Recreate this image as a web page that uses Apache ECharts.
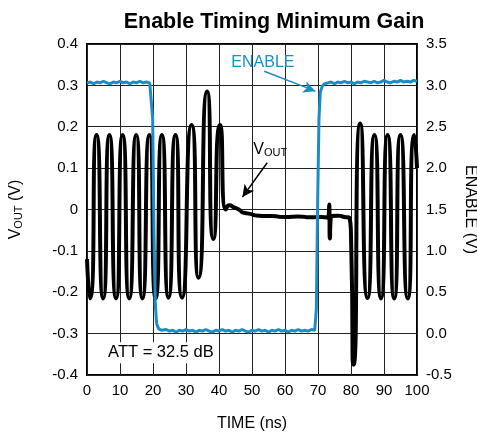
<!DOCTYPE html>
<html>
<head>
  <meta charset="utf-8">
  <script src="https://cdn.jsdelivr.net/npm/echarts@6/dist/echarts.min.js"></script>
  <style>
    html, body { margin: 0; padding: 0; background: #fff; }
    #chart { width: 477px; height: 435px; }
  </style>
</head>
<body>
  <div id="chart"></div>
  <script>
    // VOUT trace (left axis, V) - extremes and levels
    var voutTime = [0, 0.9, 2.9, 4.9, 6.8, 8.8, 10.8, 12.8, 14.9, 16.8, 18.9, 20.8, 22.7, 24.7, 26.8, 28.8,
      31.7, 33.8, 36.4, 38.3, 40.3, 42.1, 43.2, 44.5, 46, 47.5, 49, 52, 56, 60, 64, 68, 71, 73.0, 73.4, 73.6, 73.9,
      76, 78, 79.5, 80.1, 80.8, 82.8, 85, 87.1, 89.1, 91.1, 93.1, 95.0, 97.2, 99.2, 100];
    var voutVals = [-0.12, -0.215, 0.18, -0.215, 0.18, -0.215, 0.18, -0.215, 0.18, -0.215, 0.18, -0.215, 0.18, -0.213, 0.18, -0.213,
      0.204, -0.165, 0.285, -0.071, 0.204, 0.0, 0.01, 0.005, 0.0, -0.008, -0.01, -0.015, -0.016, -0.018, -0.017, -0.019, -0.018, -0.02, 0.012, -0.07, -0.02,
      -0.015, -0.018, -0.02, -0.1, -0.375, 0.208, -0.214, 0.18, -0.215, 0.18, -0.215, 0.18, -0.215, 0.18, 0.1];

    // ENABLE trace (right axis, V)
    var enableTime = [0, 1, 2, 3, 4, 5, 6, 7, 8, 9, 10, 11, 12, 13, 14, 15, 16, 17, 18, 19, 19.6,
      19.9, 20.3, 20.7, 21.1, 21.7, 22.5,
      23, 24, 25, 26, 27, 28, 29, 30, 31, 32, 33, 34, 35, 36, 37, 38, 39, 40, 41, 42, 43, 44, 45, 46,
      47, 48, 49, 50, 51, 52, 53, 54, 55, 56, 57, 58, 59, 60, 61, 62, 63, 64, 65, 66, 67, 68, 69,
      69.2, 69.5, 69.9, 70.3, 70.7, 71.3, 72,
      73, 74, 75, 76, 77, 78, 79, 80, 81, 82, 83, 84, 85, 86, 87, 88, 89, 90, 91, 92, 93, 94, 95, 96, 97, 98, 99, 100];
    var enableVals = [3.03, 3.04, 3.02, 3.04, 3.03, 3.05, 3.03, 3.02, 3.04, 3.03, 3.05, 3.03, 3.04, 3.02, 3.04, 3.03, 3.05, 3.03, 3.04, 3.03, 3.02,
      2.6, 1.2, 0.35, 0.12, 0.06, 0.04,
      0.03, 0.05, 0.03, 0.04, 0.02, 0.04, 0.03, 0.05, 0.03, 0.04, 0.02, 0.04, 0.03, 0.05, 0.03, 0.02, 0.04, 0.03, 0.05, 0.03, 0.04, 0.02, 0.04, 0.03,
      0.05, 0.03, 0.02, 0.04, 0.03, 0.05, 0.03, 0.04, 0.02, 0.04, 0.03, 0.05, 0.03, 0.04, 0.02, 0.04, 0.03, 0.05, 0.03, 0.04, 0.03, 0.05, 0.04,
      0.06, 0.3, 1.6, 2.6, 2.92, 2.99, 3.02,
      3.03, 3.04, 3.02, 3.04, 3.03, 3.05, 3.03, 3.04, 3.02, 3.04, 3.03, 3.05, 3.04, 3.03, 3.05, 3.03, 3.04, 3.06, 3.04, 3.03, 3.05, 3.04, 3.06, 3.04, 3.05, 3.04, 3.06, 3.05];

    var timeTicks = [0, 10, 20, 30, 40, 50, 60, 70, 80, 90, 100];

    var BLUE = '#1a8cc6';
    var FONT = 'Liberation Sans, Arial, sans-serif';

    function pairs(xs, ys) {
      var out = [];
      for (var i = 0; i < xs.length; i++) out.push([xs[i], ys[i]]);
      return out;
    }

    var chart = echarts.init(document.getElementById('chart'), null, { renderer: 'canvas' });

    var option = {
      animation: false,
      title: {
        text: 'Enable Timing Minimum Gain',
        left: 269, textAlign: 'center',
        top: 6,
        textStyle: { fontFamily: FONT, fontSize: 21.5, fontWeight: 'bold', color: '#000' }
      },
      grid: {
        left: 87, right: 60, top: 44, bottom: 60,
        outerBoundsMode: 'none', containLabel: false,
        show: true, borderColor: '#000', borderWidth: 2
      },
      xAxis: {
        type: 'value', min: 0, max: 100, interval: 10,
        name: 'TIME (ns)', nameLocation: 'middle', nameGap: 41,
        nameTextStyle: { fontFamily: FONT, fontSize: 16, color: '#000' },
        axisLine: { show: false },
        axisTick: { show: false },
        axisLabel: { fontFamily: FONT, fontSize: 15, color: '#000', margin: 8,
          formatter: function (v) { return timeTicks.indexOf(v) >= 0 ? String(v) : ''; } },
        splitLine: { show: true, lineStyle: { color: '#222', width: 1 } }
      },
      yAxis: [{
        type: 'value', min: -0.4, max: 0.4, interval: 0.1,
        name: 'V{sub|OUT} (V)', nameLocation: 'middle', nameGap: 63,
        nameTextStyle: { fontFamily: FONT, fontSize: 16, color: '#000',
          rich: { sub: { fontFamily: FONT, fontSize: 11, color: '#000', padding: [6, 0, 0, 0] } } },
        axisLine: { show: false },
        axisTick: { show: false },
        axisLabel: { fontFamily: FONT, fontSize: 15, color: '#000', margin: 9,
          formatter: function (v) { var r = Math.round(v * 10) / 10; return r === 0 ? '0' : r.toFixed(1); } },
        splitLine: { show: true, lineStyle: { color: '#222', width: 1 } }
      }, {
        type: 'value', min: -0.5, max: 3.5, interval: 0.5, position: 'right',
        name: 'ENABLE (V)', nameLocation: 'middle', nameGap: 45, nameRotate: -90,
        nameTextStyle: { fontFamily: FONT, fontSize: 16, color: '#000' },
        axisLine: { show: false },
        axisTick: { show: false },
        axisLabel: { fontFamily: FONT, fontSize: 15, color: '#000', margin: 9,
          formatter: function (v) { return (Math.round(v * 10) / 10).toFixed(1); } },
        splitLine: { show: false }
      }],
      series: [{
        name: 'VOUT', type: 'line', yAxisIndex: 0,
        data: pairs(voutTime, voutVals),
        smooth: 0.8, showSymbol: false,
        lineStyle: { color: '#000', width: 4 },
        markLine: {
          silent: true, symbol: ['none', 'arrow'], symbolSize: [9, 12],
          label: { show: false },
          data: [
            [{ coord: [53.7, 0.334], lineStyle: { color: BLUE, width: 1.5, type: 'solid' } }, { coord: [69.2, 0.286] }],
            [{ coord: [54.6, 0.113], lineStyle: { color: '#000', width: 1.5, type: 'solid' } }, { coord: [47.1, 0.030] }]
          ]
        }
      }, {
        name: 'ENABLE', type: 'line', yAxisIndex: 1,
        data: pairs(enableTime, enableVals),
        showSymbol: false,
        lineStyle: { color: BLUE, width: 3 }
      }]
    };
    chart.setOption(option);

    function px(t, v) { return chart.convertToPixel({ xAxisIndex: 0, yAxisIndex: 0 }, [t, v]); }
    var pEnable = px(53.3, 0.355);
    var pVout = px(55.5, 0.144);
    var pAtt = px(22.4, -0.346);

    chart.setOption({
      graphic: [
        { type: 'text', x: pEnable[0], y: pEnable[1], z: 100,
          style: { text: 'ENABLE', fill: BLUE, font: '16px ' + FONT, align: 'center', verticalAlign: 'middle' } },
        { type: 'text', x: pVout[0], y: pVout[1], z: 100,
          style: { text: 'V{sub|OUT}', fill: '#000', font: '16px ' + FONT, align: 'center', verticalAlign: 'middle',
            rich: { sub: { fontSize: 11, fontFamily: FONT, fill: '#000', padding: [6, 0, 0, 0] } } } },
        { type: 'text', x: pAtt[0], y: pAtt[1], z: 100,
          style: { text: 'ATT = 32.5 dB', fill: '#000', font: '16.5px ' + FONT, align: 'center', verticalAlign: 'middle',
            backgroundColor: '#fff', padding: [2, 3] } }
      ]
    });
  </script>
</body>
</html>
